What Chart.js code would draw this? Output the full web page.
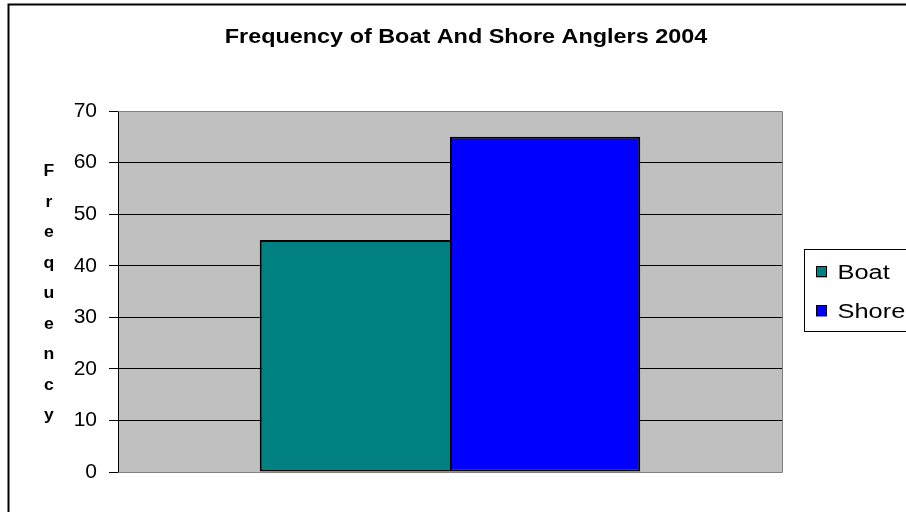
<!DOCTYPE html>
<html>
<head>
<meta charset="utf-8">
<script src="https://cdn.jsdelivr.net/npm/chart.js@4/dist/chart.umd.min.js"></script>
<style>
    html, body { margin: 0; padding: 0; background: #fff; }
    #anglerChart { display: block; }
</style>
</head>
<body>
<canvas id="anglerChart" width="906" height="512"></canvas>
<script>
const chartTitle = "Frequency of Boat And Shore Anglers 2004";
const axisTitle = "Frequency";
const categories = ["2004"];
const seriesNames = ["Boat", "Shore"];
const boatValues = [45];
const shoreValues = [65];
const yTicks = [0, 10, 20, 30, 40, 50, 60, 70];

const FONT = "'Liberation Sans', Arial, sans-serif";
const seriesColors = ["#008080", "#0000FF"];

// text in this chart is a little wider than the plain font, so stretch it horizontally
function wideText(ctx, text, x, y, sx) {
    ctx.save();
    ctx.translate(x, y);
    ctx.scale(sx, 1);
    ctx.fillText(text, 0, 0);
    ctx.restore();
}

// plot background, frame, title, stacked axis label and boxed legend
const excelLook = {
    id: "excelLook",
    beforeDraw(chart) {
        const { ctx, chartArea: a } = chart;
        ctx.save();
        ctx.fillStyle = "#C0C0C0";
        ctx.fillRect(a.left, a.top, a.right - a.left, a.bottom - a.top);
        ctx.restore();
    },
    afterDatasetsDraw(chart) {
        const { ctx, chartArea: a } = chart;
        ctx.save();
        ctx.strokeStyle = "#808080";
        ctx.lineWidth = 1;
        ctx.beginPath();
        ctx.moveTo(a.left, a.top + 0.5);
        ctx.lineTo(a.right + 0.5, a.top + 0.5);
        ctx.lineTo(a.right + 0.5, a.bottom + 0.5);
        ctx.lineTo(a.left, a.bottom + 0.5);
        ctx.stroke();
        ctx.restore();
    },
    afterDraw(chart) {
        const ctx = chart.ctx;
        ctx.save();

        // outer chart border (only left and top fall inside the canvas)
        ctx.strokeStyle = "#000";
        ctx.lineWidth = 2;
        ctx.beginPath();
        ctx.moveTo(8.5, 512);
        ctx.lineTo(8.5, 4.5);
        ctx.lineTo(906, 4.5);
        ctx.stroke();

        ctx.fillStyle = "#000";
        ctx.font = "bold 20px " + FONT;
        ctx.textAlign = "center";
        ctx.textBaseline = "alphabetic";
        wideText(ctx, chartTitle, 466, 43, 1.17);

        ctx.font = "bold 16px " + FONT;
        ctx.textBaseline = "middle";
        axisTitle.split("").forEach((ch, i) => {
            wideText(ctx, ch, 49, 172 + i * 30.5, 1.1);
        });

        // legend
        ctx.lineWidth = 1;
        ctx.strokeRect(804.5, 249.5, 120, 82);
        ctx.font = "20px " + FONT;
        ctx.textAlign = "left";
        ctx.textBaseline = "alphabetic";
        chart.data.datasets.forEach((ds, i) => {
            const cy = 272 + i * 39;
            ctx.fillStyle = ds.backgroundColor;
            ctx.fillRect(816, cy - 5.5, 11, 11);
            ctx.strokeStyle = "#000";
            ctx.strokeRect(816.5, cy - 5.5, 10, 10);
            ctx.fillStyle = "#000";
            wideText(ctx, ds.label, 837.5, cy + 6.5, 1.27);
        });
        ctx.restore();
    }
};

new Chart(document.getElementById("anglerChart").getContext("2d"), {
    type: "bar",
    data: {
        labels: categories,
        datasets: [
            // the shared edge between the two bars is drawn once, by the Shore bar
            { label: seriesNames[0], data: boatValues, backgroundColor: seriesColors[0], borderColor: "#000", borderWidth: 2, borderSkipped: "right" },
            { label: seriesNames[1], data: shoreValues, backgroundColor: seriesColors[1], borderColor: "#000", borderWidth: 2, borderSkipped: false }
        ]
    },
    options: {
        responsive: false,
        animation: false,
        events: [],
        layout: { padding: { left: 68, right: 124, top: 111, bottom: 40 } },
        datasets: { bar: { categoryPercentage: 0.573, barPercentage: 1 } },
        plugins: {
            legend: { display: false },
            title: { display: false },
            tooltip: { enabled: false }
        },
        scales: {
            x: { display: false },
            y: {
                min: 0,
                max: 70,
                afterFit(scale) { scale.width = 50; },
                afterBuildTicks(scale) { scale.ticks = yTicks.map((v) => ({ value: v })); },
                ticks: { color: "#000", padding: 12, font: { family: FONT, size: 21 } },
                grid: {
                    color: (c) => (c.tick && (c.tick.value === 0 || c.tick.value === 70)) ? "rgba(0,0,0,0)" : "#000",
                    tickColor: "#000",
                    tickLength: 9,
                    lineWidth: 1
                },
                border: { color: "#000", width: 1 }
            }
        }
    },
    plugins: [excelLook]
});
</script>
</body>
</html>
